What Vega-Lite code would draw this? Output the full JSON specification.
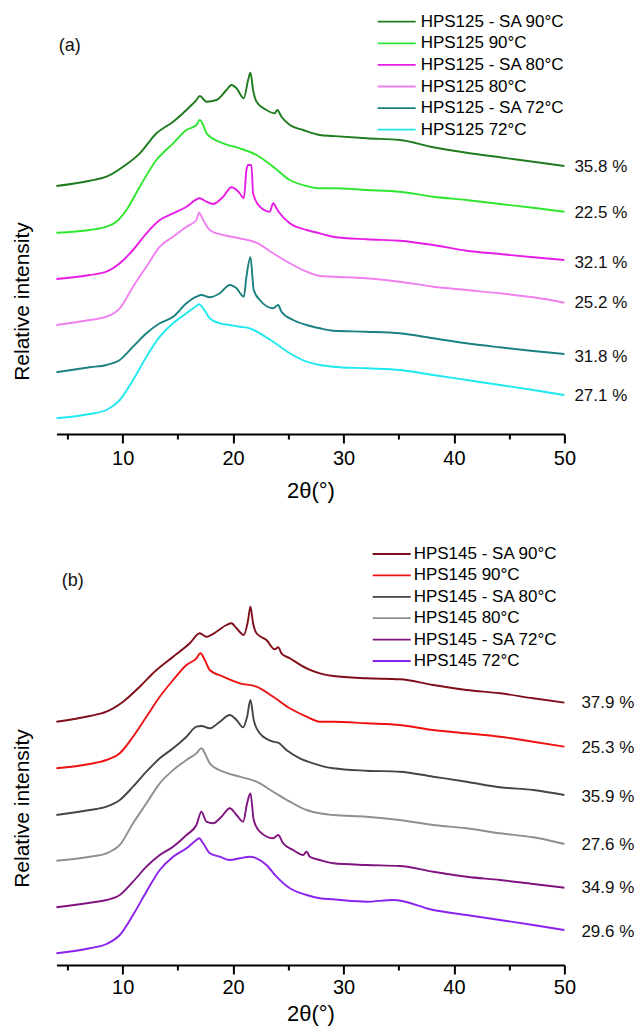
{
"$schema": "https://vega.github.io/schema/vega-lite/v6.json",
"autosize": {"type": "pad"},
"padding": {"left": 11.4, "top": 5, "right": 5, "bottom": 5},
"background": "white",
"config": {"font": "Liberation Sans", "view": {"stroke": null}},
"spacing": 101,
"bounds": "flush",
"resolve": {"scale": {"color": "independent", "x": "independent", "y": "independent"}},
"datasets": {
"a": [
{"s":"HPS125 - SA 90°C","x":4.0,"y":248.0},{"s":"HPS125 - SA 90°C","x":7.02,"y":253.3},{"s":"HPS125 - SA 90°C","x":8.53,"y":257.3},{"s":"HPS125 - SA 90°C","x":10.04,"y":267.3},{"s":"HPS125 - SA 90°C","x":11.55,"y":280.7},{"s":"HPS125 - SA 90°C","x":13.06,"y":300.7},{"s":"HPS125 - SA 90°C","x":14.57,"y":312.3},{"s":"HPS125 - SA 90°C","x":16.08,"y":327.3},{"s":"HPS125 - SA 90°C","x":16.68,"y":334.0},{"s":"HPS125 - SA 90°C","x":16.98,"y":338.0},{"s":"HPS125 - SA 90°C","x":17.59,"y":332.3},{"s":"HPS125 - SA 90°C","x":18.49,"y":334.0},{"s":"HPS125 - SA 90°C","x":19.40,"y":344.0},{"s":"HPS125 - SA 90°C","x":19.85,"y":349.0},{"s":"HPS125 - SA 90°C","x":20.31,"y":345.7},{"s":"HPS125 - SA 90°C","x":20.97,"y":335.7},{"s":"HPS125 - SA 90°C","x":21.36,"y":354.0},{"s":"HPS125 - SA 90°C","x":21.57,"y":361.3},{"s":"HPS125 - SA 90°C","x":21.81,"y":344.0},{"s":"HPS125 - SA 90°C","x":22.12,"y":332.3},{"s":"HPS125 - SA 90°C","x":23.02,"y":324.0},{"s":"HPS125 - SA 90°C","x":23.78,"y":320.7},{"s":"HPS125 - SA 90°C","x":23.99,"y":324.0},{"s":"HPS125 - SA 90°C","x":24.38,"y":317.3},{"s":"HPS125 - SA 90°C","x":25.14,"y":309.0},{"s":"HPS125 - SA 90°C","x":26.34,"y":304.0},{"s":"HPS125 - SA 90°C","x":27.85,"y":299.0},{"s":"HPS125 - SA 90°C","x":29.06,"y":298.0},{"s":"HPS125 - SA 90°C","x":32.08,"y":295.7},{"s":"HPS125 - SA 90°C","x":35.1,"y":294.0},{"s":"HPS125 - SA 90°C","x":38.12,"y":286.7},{"s":"HPS125 - SA 90°C","x":41.14,"y":281.3},{"s":"HPS125 - SA 90°C","x":44.16,"y":276.7},{"s":"HPS125 - SA 90°C","x":47.18,"y":272.3},{"s":"HPS125 - SA 90°C","x":50,"y":268.0},
{"s":"HPS125 90°C","x":4.0,"y":201.3},{"s":"HPS125 90°C","x":7.02,"y":204.0},{"s":"HPS125 90°C","x":8.53,"y":207.3},{"s":"HPS125 90°C","x":9.44,"y":212.3},{"s":"HPS125 90°C","x":10.34,"y":224.0},{"s":"HPS125 90°C","x":11.55,"y":247.3},{"s":"HPS125 90°C","x":13.06,"y":274.0},{"s":"HPS125 90°C","x":14.57,"y":290.7},{"s":"HPS125 90°C","x":15.78,"y":304.0},{"s":"HPS125 90°C","x":16.68,"y":309.0},{"s":"HPS125 90°C","x":16.98,"y":314.0},{"s":"HPS125 90°C","x":17.29,"y":309.0},{"s":"HPS125 90°C","x":17.59,"y":300.7},{"s":"HPS125 90°C","x":19.10,"y":290.7},{"s":"HPS125 90°C","x":20.61,"y":285.7},{"s":"HPS125 90°C","x":22.12,"y":279.0},{"s":"HPS125 90°C","x":23.63,"y":267.3},{"s":"HPS125 90°C","x":25.14,"y":254.0},{"s":"HPS125 90°C","x":26.65,"y":248.0},{"s":"HPS125 90°C","x":27.85,"y":245.7},{"s":"HPS125 90°C","x":29.06,"y":245.7},{"s":"HPS125 90°C","x":32.08,"y":244.0},{"s":"HPS125 90°C","x":35.1,"y":242.3},{"s":"HPS125 90°C","x":38.12,"y":237.3},{"s":"HPS125 90°C","x":41.14,"y":234.0},{"s":"HPS125 90°C","x":44.16,"y":230.0},{"s":"HPS125 90°C","x":47.18,"y":226.3},{"s":"HPS125 90°C","x":50,"y":222.3},
{"s":"HPS125 - SA 80°C","x":4.0,"y":155.0},{"s":"HPS125 - SA 80°C","x":7.02,"y":159.0},{"s":"HPS125 - SA 80°C","x":8.53,"y":162.3},{"s":"HPS125 - SA 80°C","x":9.74,"y":170.7},{"s":"HPS125 - SA 80°C","x":10.94,"y":184.0},{"s":"HPS125 - SA 80°C","x":12.15,"y":200.7},{"s":"HPS125 - SA 80°C","x":13.36,"y":214.0},{"s":"HPS125 - SA 80°C","x":14.57,"y":220.7},{"s":"HPS125 - SA 80°C","x":15.78,"y":227.3},{"s":"HPS125 - SA 80°C","x":16.98,"y":235.7},{"s":"HPS125 - SA 80°C","x":17.59,"y":232.3},{"s":"HPS125 - SA 80°C","x":18.19,"y":230.0},{"s":"HPS125 - SA 80°C","x":19.10,"y":237.3},{"s":"HPS125 - SA 80°C","x":19.85,"y":246.7},{"s":"HPS125 - SA 80°C","x":20.61,"y":240.7},{"s":"HPS125 - SA 80°C","x":20.97,"y":235.7},{"s":"HPS125 - SA 80°C","x":21.21,"y":264.0},{"s":"HPS125 - SA 80°C","x":21.36,"y":269.0},{"s":"HPS125 - SA 80°C","x":21.66,"y":269.0},{"s":"HPS125 - SA 80°C","x":21.81,"y":240.7},{"s":"HPS125 - SA 80°C","x":22.42,"y":227.3},{"s":"HPS125 - SA 80°C","x":23.32,"y":222.3},{"s":"HPS125 - SA 80°C","x":23.63,"y":230.7},{"s":"HPS125 - SA 80°C","x":23.93,"y":225.7},{"s":"HPS125 - SA 80°C","x":24.23,"y":220.7},{"s":"HPS125 - SA 80°C","x":25.14,"y":210.7},{"s":"HPS125 - SA 80°C","x":26.65,"y":204.0},{"s":"HPS125 - SA 80°C","x":27.85,"y":200.7},{"s":"HPS125 - SA 80°C","x":29.06,"y":197.3},{"s":"HPS125 - SA 80°C","x":32.08,"y":194.7},{"s":"HPS125 - SA 80°C","x":35.1,"y":193.3},{"s":"HPS125 - SA 80°C","x":38.12,"y":189.0},{"s":"HPS125 - SA 80°C","x":41.14,"y":183.3},{"s":"HPS125 - SA 80°C","x":44.16,"y":180.0},{"s":"HPS125 - SA 80°C","x":47.18,"y":176.7},{"s":"HPS125 - SA 80°C","x":50,"y":174.0},
{"s":"HPS125 80°C","x":4.0,"y":109.0},{"s":"HPS125 80°C","x":7.02,"y":114.0},{"s":"HPS125 80°C","x":8.53,"y":117.3},{"s":"HPS125 80°C","x":9.74,"y":125.7},{"s":"HPS125 80°C","x":10.94,"y":147.3},{"s":"HPS125 80°C","x":12.15,"y":167.3},{"s":"HPS125 80°C","x":13.36,"y":187.3},{"s":"HPS125 80°C","x":14.57,"y":197.3},{"s":"HPS125 80°C","x":15.78,"y":207.3},{"s":"HPS125 80°C","x":16.68,"y":214.0},{"s":"HPS125 80°C","x":16.92,"y":221.3},{"s":"HPS125 80°C","x":17.29,"y":214.0},{"s":"HPS125 80°C","x":17.89,"y":204.0},{"s":"HPS125 80°C","x":19.10,"y":199.0},{"s":"HPS125 80°C","x":20.61,"y":195.7},{"s":"HPS125 80°C","x":22.12,"y":191.3},{"s":"HPS125 80°C","x":23.63,"y":180.7},{"s":"HPS125 80°C","x":25.14,"y":170.7},{"s":"HPS125 80°C","x":26.65,"y":162.3},{"s":"HPS125 80°C","x":27.85,"y":158.0},{"s":"HPS125 80°C","x":29.06,"y":157.3},{"s":"HPS125 80°C","x":32.08,"y":155.7},{"s":"HPS125 80°C","x":35.1,"y":152.3},{"s":"HPS125 80°C","x":38.12,"y":147.3},{"s":"HPS125 80°C","x":41.14,"y":144.0},{"s":"HPS125 80°C","x":44.16,"y":140.7},{"s":"HPS125 80°C","x":47.18,"y":136.7},{"s":"HPS125 80°C","x":50,"y":131.3},
{"s":"HPS125 - SA 72°C","x":4.0,"y":61.7},{"s":"HPS125 - SA 72°C","x":7.02,"y":66.7},{"s":"HPS125 - SA 72°C","x":8.53,"y":69.0},{"s":"HPS125 - SA 72°C","x":9.74,"y":74.0},{"s":"HPS125 - SA 72°C","x":10.94,"y":87.3},{"s":"HPS125 - SA 72°C","x":12.15,"y":100.7},{"s":"HPS125 - SA 72°C","x":13.36,"y":110.7},{"s":"HPS125 - SA 72°C","x":14.57,"y":117.3},{"s":"HPS125 - SA 72°C","x":15.78,"y":130.7},{"s":"HPS125 - SA 72°C","x":16.68,"y":137.3},{"s":"HPS125 - SA 72°C","x":17.13,"y":139.0},{"s":"HPS125 - SA 72°C","x":17.89,"y":136.7},{"s":"HPS125 - SA 72°C","x":18.80,"y":140.7},{"s":"HPS125 - SA 72°C","x":19.70,"y":149.0},{"s":"HPS125 - SA 72°C","x":20.31,"y":145.7},{"s":"HPS125 - SA 72°C","x":20.97,"y":137.3},{"s":"HPS125 - SA 72°C","x":21.21,"y":157.3},{"s":"HPS125 - SA 72°C","x":21.57,"y":176.7},{"s":"HPS125 - SA 72°C","x":21.87,"y":144.0},{"s":"HPS125 - SA 72°C","x":22.42,"y":134.0},{"s":"HPS125 - SA 72°C","x":23.63,"y":125.7},{"s":"HPS125 - SA 72°C","x":24.08,"y":129.0},{"s":"HPS125 - SA 72°C","x":24.38,"y":122.3},{"s":"HPS125 - SA 72°C","x":25.44,"y":114.0},{"s":"HPS125 - SA 72°C","x":26.65,"y":109.0},{"s":"HPS125 - SA 72°C","x":27.85,"y":105.7},{"s":"HPS125 - SA 72°C","x":29.06,"y":103.3},{"s":"HPS125 - SA 72°C","x":32.08,"y":102.3},{"s":"HPS125 - SA 72°C","x":35.1,"y":100.7},{"s":"HPS125 - SA 72°C","x":38.12,"y":95.7},{"s":"HPS125 - SA 72°C","x":41.14,"y":90.7},{"s":"HPS125 - SA 72°C","x":44.16,"y":86.7},{"s":"HPS125 - SA 72°C","x":47.18,"y":83.0},{"s":"HPS125 - SA 72°C","x":50,"y":80.0},
{"s":"HPS125 72°C","x":4.0,"y":15.7},{"s":"HPS125 72°C","x":7.02,"y":20.0},{"s":"HPS125 72°C","x":8.53,"y":24.0},{"s":"HPS125 72°C","x":9.74,"y":34.0},{"s":"HPS125 72°C","x":10.94,"y":54.0},{"s":"HPS125 72°C","x":12.15,"y":77.3},{"s":"HPS125 72°C","x":13.36,"y":97.3},{"s":"HPS125 72°C","x":14.57,"y":110.7},{"s":"HPS125 72°C","x":15.78,"y":120.7},{"s":"HPS125 72°C","x":16.68,"y":128.0},{"s":"HPS125 72°C","x":16.92,"y":129.7},{"s":"HPS125 72°C","x":17.29,"y":125.7},{"s":"HPS125 72°C","x":17.89,"y":115.7},{"s":"HPS125 72°C","x":18.80,"y":110.7},{"s":"HPS125 72°C","x":19.70,"y":109.0},{"s":"HPS125 72°C","x":20.61,"y":107.3},{"s":"HPS125 72°C","x":21.51,"y":105.7},{"s":"HPS125 72°C","x":22.42,"y":100.7},{"s":"HPS125 72°C","x":23.63,"y":92.3},{"s":"HPS125 72°C","x":25.14,"y":80.7},{"s":"HPS125 72°C","x":26.65,"y":72.3},{"s":"HPS125 72°C","x":27.85,"y":69.0},{"s":"HPS125 72°C","x":29.06,"y":67.3},{"s":"HPS125 72°C","x":32.08,"y":65.7},{"s":"HPS125 72°C","x":35.1,"y":64.0},{"s":"HPS125 72°C","x":38.12,"y":59.0},{"s":"HPS125 72°C","x":41.14,"y":54.0},{"s":"HPS125 72°C","x":44.16,"y":49.0},{"s":"HPS125 72°C","x":47.18,"y":44.0},{"s":"HPS125 72°C","x":50,"y":39.0}
],
"b": [
{"s":"HPS145 - SA 90°C","x":4.0,"y":243.3},{"s":"HPS145 - SA 90°C","x":7.02,"y":249.0},{"s":"HPS145 - SA 90°C","x":8.53,"y":253.3},{"s":"HPS145 - SA 90°C","x":10.04,"y":263.3},{"s":"HPS145 - SA 90°C","x":11.55,"y":278.3},{"s":"HPS145 - SA 90°C","x":13.06,"y":295.0},{"s":"HPS145 - SA 90°C","x":14.57,"y":308.3},{"s":"HPS145 - SA 90°C","x":16.08,"y":321.7},{"s":"HPS145 - SA 90°C","x":16.98,"y":331.7},{"s":"HPS145 - SA 90°C","x":17.59,"y":328.3},{"s":"HPS145 - SA 90°C","x":18.49,"y":333.3},{"s":"HPS145 - SA 90°C","x":19.40,"y":340.0},{"s":"HPS145 - SA 90°C","x":19.85,"y":341.7},{"s":"HPS145 - SA 90°C","x":20.31,"y":336.7},{"s":"HPS145 - SA 90°C","x":20.97,"y":330.0},{"s":"HPS145 - SA 90°C","x":21.36,"y":345.0},{"s":"HPS145 - SA 90°C","x":21.57,"y":358.3},{"s":"HPS145 - SA 90°C","x":21.81,"y":341.7},{"s":"HPS145 - SA 90°C","x":22.12,"y":331.7},{"s":"HPS145 - SA 90°C","x":23.02,"y":325.0},{"s":"HPS145 - SA 90°C","x":23.78,"y":315.7},{"s":"HPS145 - SA 90°C","x":24.08,"y":317.7},{"s":"HPS145 - SA 90°C","x":24.38,"y":311.7},{"s":"HPS145 - SA 90°C","x":25.14,"y":306.7},{"s":"HPS145 - SA 90°C","x":26.65,"y":296.7},{"s":"HPS145 - SA 90°C","x":27.85,"y":291.7},{"s":"HPS145 - SA 90°C","x":29.06,"y":289.0},{"s":"HPS145 - SA 90°C","x":32.08,"y":286.7},{"s":"HPS145 - SA 90°C","x":35.1,"y":285.7},{"s":"HPS145 - SA 90°C","x":38.12,"y":280.0},{"s":"HPS145 - SA 90°C","x":41.14,"y":275.0},{"s":"HPS145 - SA 90°C","x":44.16,"y":271.7},{"s":"HPS145 - SA 90°C","x":47.18,"y":266.7},{"s":"HPS145 - SA 90°C","x":50,"y":262.3},
{"s":"HPS145 90°C","x":4.0,"y":196.7},{"s":"HPS145 90°C","x":7.02,"y":201.0},{"s":"HPS145 90°C","x":8.53,"y":205.0},{"s":"HPS145 90°C","x":9.74,"y":211.7},{"s":"HPS145 90°C","x":10.94,"y":228.3},{"s":"HPS145 90°C","x":12.15,"y":248.3},{"s":"HPS145 90°C","x":13.36,"y":268.3},{"s":"HPS145 90°C","x":14.57,"y":285.0},{"s":"HPS145 90°C","x":15.78,"y":300.0},{"s":"HPS145 90°C","x":16.68,"y":306.7},{"s":"HPS145 90°C","x":17.04,"y":311.7},{"s":"HPS145 90°C","x":17.44,"y":305.0},{"s":"HPS145 90°C","x":17.89,"y":295.0},{"s":"HPS145 90°C","x":19.10,"y":288.3},{"s":"HPS145 90°C","x":20.61,"y":281.7},{"s":"HPS145 90°C","x":22.12,"y":278.3},{"s":"HPS145 90°C","x":23.63,"y":268.3},{"s":"HPS145 90°C","x":25.14,"y":256.7},{"s":"HPS145 90°C","x":26.65,"y":248.3},{"s":"HPS145 90°C","x":27.85,"y":243.3},{"s":"HPS145 90°C","x":29.06,"y":243.3},{"s":"HPS145 90°C","x":32.08,"y":241.7},{"s":"HPS145 90°C","x":35.1,"y":240.0},{"s":"HPS145 90°C","x":38.12,"y":235.0},{"s":"HPS145 90°C","x":41.14,"y":231.7},{"s":"HPS145 90°C","x":44.16,"y":228.3},{"s":"HPS145 90°C","x":47.18,"y":223.3},{"s":"HPS145 90°C","x":50,"y":218.3},
{"s":"HPS145 - SA 80°C","x":4.0,"y":150.0},{"s":"HPS145 - SA 80°C","x":7.02,"y":155.0},{"s":"HPS145 - SA 80°C","x":8.53,"y":158.3},{"s":"HPS145 - SA 80°C","x":9.74,"y":165.0},{"s":"HPS145 - SA 80°C","x":10.94,"y":178.3},{"s":"HPS145 - SA 80°C","x":12.15,"y":193.3},{"s":"HPS145 - SA 80°C","x":13.36,"y":206.7},{"s":"HPS145 - SA 80°C","x":14.57,"y":216.7},{"s":"HPS145 - SA 80°C","x":15.78,"y":228.3},{"s":"HPS145 - SA 80°C","x":16.68,"y":238.3},{"s":"HPS145 - SA 80°C","x":17.13,"y":239.0},{"s":"HPS145 - SA 80°C","x":17.89,"y":236.7},{"s":"HPS145 - SA 80°C","x":18.80,"y":243.3},{"s":"HPS145 - SA 80°C","x":19.70,"y":250.0},{"s":"HPS145 - SA 80°C","x":20.31,"y":245.0},{"s":"HPS145 - SA 80°C","x":20.91,"y":237.7},{"s":"HPS145 - SA 80°C","x":21.27,"y":248.3},{"s":"HPS145 - SA 80°C","x":21.57,"y":265.0},{"s":"HPS145 - SA 80°C","x":21.87,"y":245.0},{"s":"HPS145 - SA 80°C","x":22.42,"y":231.7},{"s":"HPS145 - SA 80°C","x":23.63,"y":223.3},{"s":"HPS145 - SA 80°C","x":24.08,"y":222.3},{"s":"HPS145 - SA 80°C","x":24.83,"y":215.0},{"s":"HPS145 - SA 80°C","x":26.04,"y":206.7},{"s":"HPS145 - SA 80°C","x":27.25,"y":201.7},{"s":"HPS145 - SA 80°C","x":29.06,"y":196.7},{"s":"HPS145 - SA 80°C","x":32.08,"y":194.3},{"s":"HPS145 - SA 80°C","x":35.1,"y":193.3},{"s":"HPS145 - SA 80°C","x":38.12,"y":188.3},{"s":"HPS145 - SA 80°C","x":41.14,"y":183.3},{"s":"HPS145 - SA 80°C","x":44.16,"y":177.7},{"s":"HPS145 - SA 80°C","x":47.18,"y":175.0},{"s":"HPS145 - SA 80°C","x":50,"y":170.0},
{"s":"HPS145 80°C","x":4.0,"y":104.3},{"s":"HPS145 80°C","x":7.02,"y":108.3},{"s":"HPS145 80°C","x":8.53,"y":111.7},{"s":"HPS145 80°C","x":9.74,"y":120.0},{"s":"HPS145 80°C","x":10.94,"y":141.7},{"s":"HPS145 80°C","x":12.15,"y":161.7},{"s":"HPS145 80°C","x":13.36,"y":181.7},{"s":"HPS145 80°C","x":14.57,"y":195.0},{"s":"HPS145 80°C","x":15.78,"y":205.0},{"s":"HPS145 80°C","x":16.68,"y":211.7},{"s":"HPS145 80°C","x":17.13,"y":216.7},{"s":"HPS145 80°C","x":17.44,"y":211.7},{"s":"HPS145 80°C","x":17.89,"y":201.7},{"s":"HPS145 80°C","x":19.10,"y":193.3},{"s":"HPS145 80°C","x":20.61,"y":188.3},{"s":"HPS145 80°C","x":22.12,"y":183.3},{"s":"HPS145 80°C","x":23.63,"y":173.3},{"s":"HPS145 80°C","x":25.14,"y":163.3},{"s":"HPS145 80°C","x":26.65,"y":155.0},{"s":"HPS145 80°C","x":27.85,"y":151.7},{"s":"HPS145 80°C","x":29.06,"y":150.0},{"s":"HPS145 80°C","x":32.08,"y":148.3},{"s":"HPS145 80°C","x":35.1,"y":145.0},{"s":"HPS145 80°C","x":38.12,"y":140.0},{"s":"HPS145 80°C","x":41.14,"y":136.7},{"s":"HPS145 80°C","x":44.16,"y":131.7},{"s":"HPS145 80°C","x":47.18,"y":127.7},{"s":"HPS145 80°C","x":50,"y":121.0},
{"s":"HPS145 - SA 72°C","x":4.0,"y":57.7},{"s":"HPS145 - SA 72°C","x":7.02,"y":62.3},{"s":"HPS145 - SA 72°C","x":8.53,"y":65.0},{"s":"HPS145 - SA 72°C","x":9.74,"y":70.0},{"s":"HPS145 - SA 72°C","x":10.94,"y":83.3},{"s":"HPS145 - SA 72°C","x":12.15,"y":98.3},{"s":"HPS145 - SA 72°C","x":13.36,"y":110.0},{"s":"HPS145 - SA 72°C","x":14.57,"y":118.3},{"s":"HPS145 - SA 72°C","x":15.78,"y":130.0},{"s":"HPS145 - SA 72°C","x":16.68,"y":140.0},{"s":"HPS145 - SA 72°C","x":17.13,"y":153.3},{"s":"HPS145 - SA 72°C","x":17.59,"y":143.3},{"s":"HPS145 - SA 72°C","x":18.19,"y":141.7},{"s":"HPS145 - SA 72°C","x":18.95,"y":148.3},{"s":"HPS145 - SA 72°C","x":19.70,"y":156.7},{"s":"HPS145 - SA 72°C","x":20.31,"y":150.0},{"s":"HPS145 - SA 72°C","x":20.91,"y":143.3},{"s":"HPS145 - SA 72°C","x":21.27,"y":161.7},{"s":"HPS145 - SA 72°C","x":21.57,"y":171.7},{"s":"HPS145 - SA 72°C","x":21.87,"y":145.0},{"s":"HPS145 - SA 72°C","x":22.42,"y":133.3},{"s":"HPS145 - SA 72°C","x":23.63,"y":126.7},{"s":"HPS145 - SA 72°C","x":24.08,"y":130.0},{"s":"HPS145 - SA 72°C","x":24.53,"y":121.7},{"s":"HPS145 - SA 72°C","x":25.44,"y":115.0},{"s":"HPS145 - SA 72°C","x":26.34,"y":110.0},{"s":"HPS145 - SA 72°C","x":26.65,"y":113.3},{"s":"HPS145 - SA 72°C","x":26.95,"y":108.3},{"s":"HPS145 - SA 72°C","x":27.85,"y":105.0},{"s":"HPS145 - SA 72°C","x":29.06,"y":101.7},{"s":"HPS145 - SA 72°C","x":32.08,"y":100.0},{"s":"HPS145 - SA 72°C","x":35.1,"y":99.0},{"s":"HPS145 - SA 72°C","x":38.12,"y":93.3},{"s":"HPS145 - SA 72°C","x":41.14,"y":88.3},{"s":"HPS145 - SA 72°C","x":44.16,"y":85.0},{"s":"HPS145 - SA 72°C","x":47.18,"y":81.0},{"s":"HPS145 - SA 72°C","x":50,"y":77.3},
{"s":"HPS145 72°C","x":4.0,"y":11.7},{"s":"HPS145 72°C","x":7.02,"y":16.7},{"s":"HPS145 72°C","x":8.53,"y":21.0},{"s":"HPS145 72°C","x":9.74,"y":30.0},{"s":"HPS145 72°C","x":10.94,"y":50.0},{"s":"HPS145 72°C","x":12.15,"y":73.3},{"s":"HPS145 72°C","x":13.36,"y":95.0},{"s":"HPS145 72°C","x":14.57,"y":108.3},{"s":"HPS145 72°C","x":15.78,"y":116.7},{"s":"HPS145 72°C","x":16.68,"y":125.0},{"s":"HPS145 72°C","x":16.92,"y":126.7},{"s":"HPS145 72°C","x":17.29,"y":121.7},{"s":"HPS145 72°C","x":17.89,"y":111.7},{"s":"HPS145 72°C","x":18.80,"y":108.3},{"s":"HPS145 72°C","x":19.70,"y":105.0},{"s":"HPS145 72°C","x":20.61,"y":106.7},{"s":"HPS145 72°C","x":21.51,"y":108.3},{"s":"HPS145 72°C","x":22.12,"y":106.7},{"s":"HPS145 72°C","x":23.02,"y":100.0},{"s":"HPS145 72°C","x":23.93,"y":88.3},{"s":"HPS145 72°C","x":25.14,"y":76.7},{"s":"HPS145 72°C","x":26.65,"y":70.0},{"s":"HPS145 72°C","x":27.85,"y":66.7},{"s":"HPS145 72°C","x":29.06,"y":65.7},{"s":"HPS145 72°C","x":32.08,"y":63.3},{"s":"HPS145 72°C","x":34.5,"y":65.0},{"s":"HPS145 72°C","x":38.12,"y":55.0},{"s":"HPS145 72°C","x":41.14,"y":50.0},{"s":"HPS145 72°C","x":44.16,"y":45.0},{"s":"HPS145 72°C","x":47.18,"y":40.0},{"s":"HPS145 72°C","x":50,"y":35.0}
],
"la": [{"x":50,"y":267.3,"t":"35.8 %"},{"x":50,"y":220.7,"t":"22.5 %"},{"x":50,"y":171.3,"t":"32.1 %"},{"x":50,"y":131,"t":"25.2 %"},{"x":50,"y":77.3,"t":"31.8 %"},{"x":50,"y":38,"t":"27.1 %"}],
"lb": [{"x":50,"y":261.7,"t":"37.9 %"},{"x":50,"y":216.7,"t":"25.3 %"},{"x":50,"y":168.3,"t":"35.9 %"},{"x":50,"y":120,"t":"27.6 %"},{"x":50,"y":77.3,"t":"34.9 %"},{"x":50,"y":33.3,"t":"29.6 %"}],
"ta": [{"x":5.21,"y":388,"t":"(a)"}],
"tb": [{"x":5.48,"y":384,"t":"(b)"}]
},
"vconcat": [
{
"width": 508, "height": 429,
"encoding": {
"x": {"field": "x", "type": "quantitative", "scale": {"domain": [4, 50], "nice": false, "zero": false},
 "axis": {"title": "2θ(°)", "values": [5,10,15,20,25,30,35,40,45,50], "labelExpr": "datum.value % 10 === 0 ? datum.label : ''", "tickSize": {"condition": {"test": "datum.value % 10 === 0", "value": 9}, "value": 5}, "tickWidth": 2, "tickColor": "black", "domainWidth": 2, "domainColor": "black", "labelColor": "black", "labelFontSize": 20, "labelPadding": 5, "labelFlush": false, "labelOverlap": false, "titleFontSize": 22, "titleFontWeight": "normal", "titleColor": "black", "titlePadding": 12, "grid": false}},
"y": {"field": "y", "type": "quantitative", "scale": {"domain": [0, 429], "nice": false, "zero": false},
 "axis": {"title": "Relative intensity", "domain": false, "ticks": false, "labels": false, "grid": false, "titleFontSize": 21, "titleFontWeight": "normal", "titleColor": "black", "titlePadding": 23.5, "titleY": 296}}
},
"layer": [
{"data": {"name": "a"}, "mark": {"type": "line", "strokeWidth": 1.9, "interpolate": "monotone"},
 "encoding": {"color": {"field": "s", "type": "nominal",
  "scale": {"domain": ["HPS125 - SA 90°C","HPS125 90°C","HPS125 - SA 80°C","HPS125 80°C","HPS125 - SA 72°C","HPS125 72°C"], "range": ["#1e7b1e","#2ee62e","#e81ce8","#f080f0","#1a8080","#1ee8f0"]},
  "legend": {"orient": "none", "legendX": 329.8, "legendY": 6.2, "title": null, "symbolType": "M-2,0H2", "symbolSize": 361, "symbolStrokeWidth": 1.8, "labelFontSize": 17, "labelColor": "black", "rowPadding": 2.6, "labelOffset": 13.5, "padding": 0, "labelLimit": 300}}}},
{"data": {"name": "la"}, "mark": {"type": "text", "align": "left", "baseline": "middle", "dx": 10, "fontSize": 17, "color": "#111"},
 "encoding": {"text": {"field": "t"}}},
{"data": {"name": "ta"}, "mark": {"type": "text", "align": "center", "baseline": "middle", "fontSize": 18, "color": "#111"},
 "encoding": {"text": {"field": "t"}}}
]
},
{
"width": 508, "height": 430,
"encoding": {
"x": {"field": "x", "type": "quantitative", "scale": {"domain": [4, 50], "nice": false, "zero": false},
 "axis": {"title": "2θ(°)", "values": [5,10,15,20,25,30,35,40,45,50], "labelExpr": "datum.value % 10 === 0 ? datum.label : ''", "tickSize": {"condition": {"test": "datum.value % 10 === 0", "value": 9}, "value": 5}, "tickWidth": 2, "tickColor": "black", "domainWidth": 2, "domainColor": "black", "labelColor": "black", "labelFontSize": 20, "labelPadding": 4, "labelFlush": false, "labelOverlap": false, "titleFontSize": 22, "titleFontWeight": "normal", "titleColor": "black", "titlePadding": 6, "grid": false}},
"y": {"field": "y", "type": "quantitative", "scale": {"domain": [0, 430], "nice": false, "zero": false},
 "axis": {"title": "Relative intensity", "domain": false, "ticks": false, "labels": false, "grid": false, "titleFontSize": 21, "titleFontWeight": "normal", "titleColor": "black", "titlePadding": 23.5, "titleY": 273}}
},
"layer": [
{"data": {"name": "b"}, "mark": {"type": "line", "strokeWidth": 1.9, "interpolate": "monotone"},
 "encoding": {"color": {"field": "s", "type": "nominal",
  "scale": {"domain": ["HPS145 - SA 90°C","HPS145 90°C","HPS145 - SA 80°C","HPS145 80°C","HPS145 - SA 72°C","HPS145 72°C"], "range": ["#800d1a","#ee1111","#454545","#8f8f8f","#7f1480","#8a22ee"]},
  "legend": {"orient": "none", "legendX": 324.8, "legendY": 8.5, "title": null, "symbolType": "M-2,0H2", "symbolSize": 361, "symbolStrokeWidth": 1.8, "labelFontSize": 17, "labelColor": "black", "rowPadding": 2.4, "labelOffset": 11.5, "padding": 0, "labelLimit": 300}}}},
{"data": {"name": "lb"}, "mark": {"type": "text", "align": "left", "baseline": "middle", "dx": 17, "fontSize": 17, "color": "#111"},
 "encoding": {"text": {"field": "t"}}},
{"data": {"name": "tb"}, "mark": {"type": "text", "align": "center", "baseline": "middle", "fontSize": 18, "color": "#111"},
 "encoding": {"text": {"field": "t"}}}
]
}
]
}
